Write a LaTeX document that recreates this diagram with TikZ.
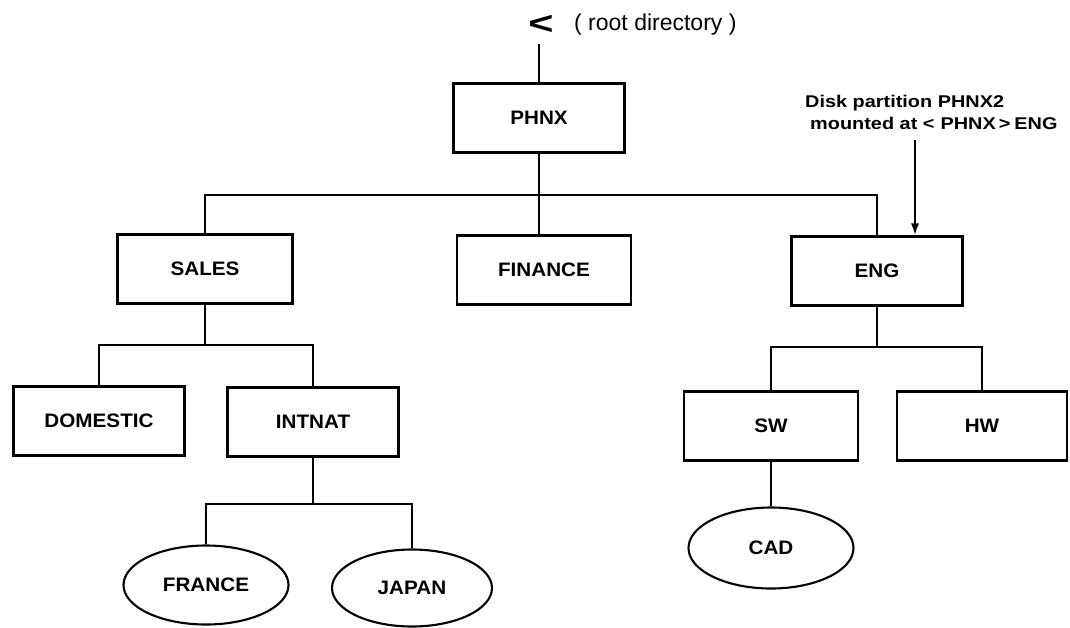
\documentclass[tikz,border=0pt]{standalone}
\usepackage{fontspec}
\setmainfont{Liberation Sans}
\newfontfamily\boxfont[FakeStretch=1.06]{Liberation Sans}
\newfontfamily\notefont[FakeStretch=1.17]{Liberation Sans}
\usetikzlibrary{shapes.geometric,arrows.meta}
\begin{document}
\begin{tikzpicture}[x=1pt,y=-1pt,
  dirbox/.style={draw, line width=2.1pt, minimum width=171pt, minimum height=69pt,
    inner sep=0pt, font=\boxfont\fontsize{19.5}{22}\selectfont\bfseries},
  fileoval/.style={draw, ellipse, line width=2.1pt, minimum width=165pt, minimum height=79pt,
    inner sep=0pt, font=\boxfont\fontsize{19.5}{22}\selectfont\bfseries},
  link/.style={line width=2.1pt},
  pointer/.style={line width=2.1pt, -{Latex[length=12pt,width=8pt]}}]
\useasboundingbox (0,0) rectangle (1070,627);

% root marker
\node (root) [minimum height=38pt, inner sep=0pt, font=\fontsize{32}{32}\selectfont\bfseries]
  at (541,25) {\scalebox{1.35}[1]{<}};
\node (rootlabel) [anchor=west, inner sep=0pt, font=\fontsize{23}{26}\selectfont] at (574,25) {( root directory )};

% directories
\node (phnx)     [dirbox] at (539,118) {PHNX};
\node (sales)    [dirbox, minimum width=175pt] at (205,269) {SALES};
\node (finance)  [dirbox, minimum width=174pt] at (544,270) {FINANCE};
\node (eng)      [dirbox] at (877,271) {ENG};
\node (domestic) [dirbox] at (99,421) {DOMESTIC};
\node (intnat)   [dirbox] at (313,422) {INTNAT};
\node (sw)       [dirbox, minimum width=174pt] at (771,426) {SW};
\node (hw)       [dirbox, minimum width=170pt] at (982,426) {HW};

% files
\node (france) [fileoval] at (206,585) {FRANCE};
\node (japan)  [fileoval, minimum width=160pt, minimum height=77pt] at (412,588) {JAPAN};
\node (cad)    [fileoval, minimum height=81pt] at (771,548) {CAD};

% note on the mounted partition
\node (note) [anchor=north west, align=left, inner sep=0pt,
  font=\notefont\fontsize{17}{22}\selectfont\bfseries] at (805,95)
  {Disk partition PHNX2\\
   \hspace*{5pt}mounted at <\hspace{6pt}PHNX\hspace{3pt}>\hspace{4pt}ENG};
\coordinate (notefoot) at (915,140);

% branch points
\coordinate (b1) at (541,195);
\coordinate (b2) at (205,345);
\coordinate (b3) at (313,504);
\coordinate (b4) at (877,347);

% connectors
\draw[link] (root.south -| phnx.north) -- (phnx.north);
\draw[link] (phnx.south) -- (phnx.south |- finance.north);
\draw[link] (sales.north) |- (b1) -| (eng.north);

\draw[link] (sales.south) -- (b2);
\draw[link] (domestic.north) |- (b2) -| (intnat.north);

\draw[link] (intnat.south) -- (b3);
\draw[link] (france.north) |- (b3) -| (japan.north);

\draw[link] (eng.south) -- (b4);
\draw[link] (sw.north) |- (b4) -| (hw.north);
\draw[link] (sw.south) -- (cad.north);

\draw[pointer] (notefoot) -- (notefoot |- eng.north);
\end{tikzpicture}
\end{document}
